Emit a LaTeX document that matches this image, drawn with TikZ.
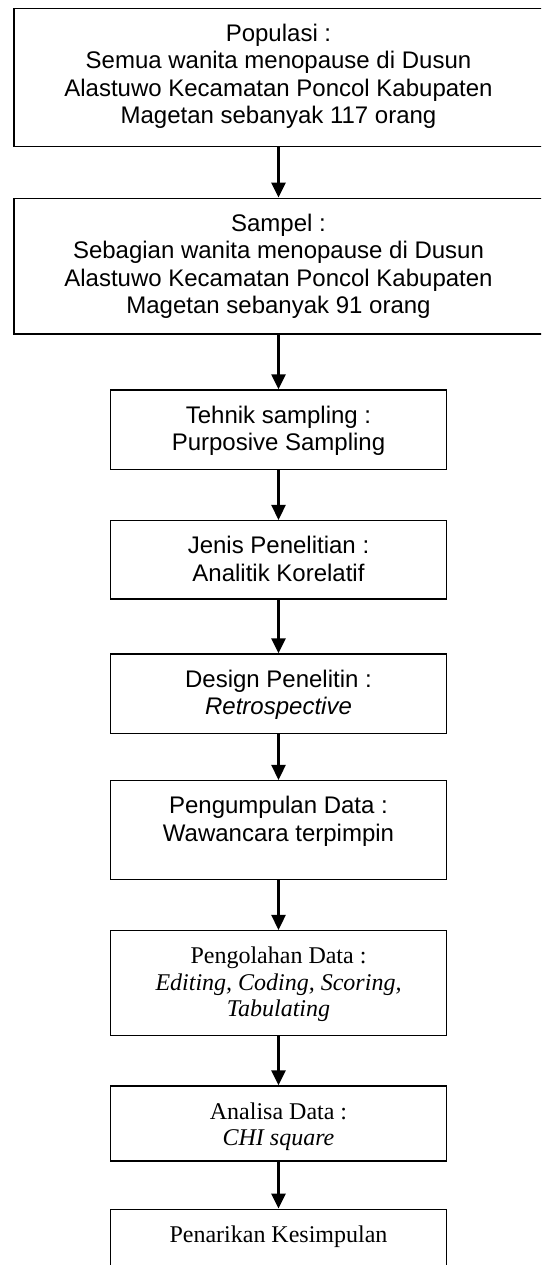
\documentclass[tikz,border=0pt]{standalone}
\usepackage{fontspec}
\setmainfont{Liberation Serif}
\newfontfamily\arialf{Liberation Sans}
\usetikzlibrary{arrows.meta}
\newcommand{\flowtext}[4]{\parbox[c][#2pt][t]{#1pt}{#4\centering\vspace*{\dimexpr33pt-0.7\baselineskip\relax}#3}}
\newcommand{\sansfnt}{\arialf\fontsize{24}{27.5}\selectfont}
\newcommand{\seriffnt}{\rmfamily\fontsize{24}{26.5}\selectfont}
\begin{document}
\begin{tikzpicture}[x=1pt,y=-1pt,
  flowbox/.style={draw=black,line width=1.5pt,inner sep=0pt,anchor=center},
  flowarrow/.style={line width=2.6pt,-{Triangle[length=15pt,width=14pt]}}]
\useasboundingbox (0,0) rectangle (541,1265);
\clip (0,0) rectangle (541,1265);
\node[flowbox] (pop) at (278.5,77.3) {\flowtext{529}{138}{\strut Populasi :\\ \strut Semua wanita menopause di Dusun\\ \strut Alastuwo Kecamatan Poncol Kabupaten\\ \strut Magetan sebanyak 117 orang}{\sansfnt}};
\node[flowbox] (sam) at (278.5,266.2) {\flowtext{529}{135.7}{\strut Sampel :\\ \strut Sebagian wanita menopause di Dusun\\ \strut Alastuwo Kecamatan Poncol Kabupaten\\ \strut Magetan sebanyak 91 orang}{\sansfnt}};
\node[flowbox] (tek) at (278.5,429.65) {\flowtext{336}{79.3}{\strut Tehnik sampling :\\ \strut Purposive Sampling}{\sansfnt}};
\node[flowbox] (jen) at (278.5,559.75) {\flowtext{336}{78.1}{\strut Jenis Penelitian :\\ \strut Analitik Korelatif}{\sansfnt}};
\node[flowbox] (des) at (278.5,693.65) {\flowtext{336}{79.3}{\strut Design Penelitin :\\ \strut\itshape Retrospective}{\sansfnt}};
\node[flowbox] (pgm) at (278.5,830) {\flowtext{336}{98.6}{\strut Pengumpulan Data :\\ \strut Wawancara terpimpin}{\sansfnt}};
\node[flowbox] (pgl) at (278.5,983.2) {\flowtext{336}{105}{\strut Pengolahan Data :\\ \strut\itshape Editing, Coding, Scoring,\\ \strut\itshape Tabulating}{\seriffnt}};
\node[flowbox] (ana) at (278.5,1123.5) {\flowtext{336}{75}{\strut Analisa Data :\\ \strut\itshape CHI square}{\seriffnt}};
\node[flowbox] (pen) at (278.5,1254.65) {\flowtext{336}{90.7}{\strut Penarikan Kesimpulan}{\seriffnt}};
\draw[flowarrow] (pop.south) -- (sam.north);
\draw[flowarrow] (sam.south) -- (tek.north);
\draw[flowarrow] (tek.south) -- (jen.north);
\draw[flowarrow] (jen.south) -- (des.north);
\draw[flowarrow] (des.south) -- (pgm.north);
\draw[flowarrow] (pgm.south) -- (pgl.north);
\draw[flowarrow] (pgl.south) -- (ana.north);
\draw[flowarrow] (ana.south) -- (pen.north);
\end{tikzpicture}
\end{document}
